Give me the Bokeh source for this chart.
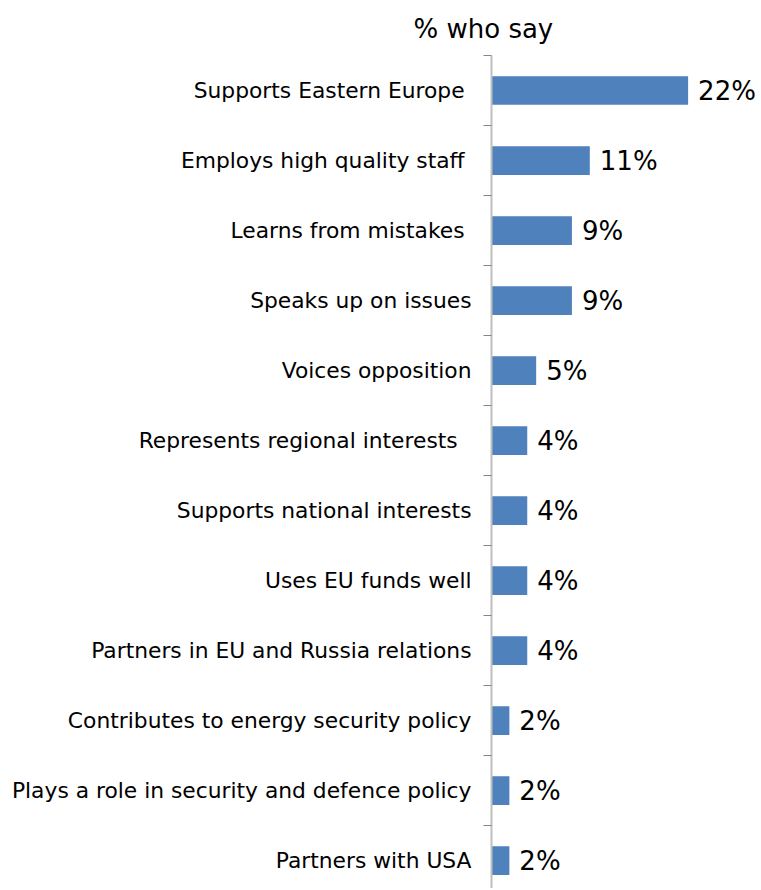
from bokeh.plotting import figure
from bokeh.models import Range1d, FixedTicker, ColumnDataSource, Title
from bokeh.core.properties import value
from bokeh.embed import file_html
from bokeh.resources import INLINE

categories = [
    "Supports Eastern Europe ",
    "Employs high quality staff ",
    "Learns from mistakes ",
    "Speaks up on issues",
    "Voices opposition",
    "Represents  regional interests ",
    "Supports national interests",
    "Uses EU funds well",
    "Partners in EU and Russia relations",
    "Contributes to energy security policy",
    "Plays a role in security and defence policy",
    "Partners with USA",
]
values = [22, 11, 9, 9, 5, 4, 4, 4, 4, 2, 2, 2]
value_labels = ["22%", "11%", "9%", "9%", "5%", "4%", "4%", "4%", "4%", "2%", "2%", "2%"]
title_text = "% who say"

n = len(categories)
centers = [n - 0.5 - i for i in range(n)]
boundaries = [float(i) for i in range(1, n + 1)]

FONT = "DejaVu Sans"

p = figure(width=760, height=888, output_backend="svg", toolbar_location=None,
           x_range=Range1d(0, 30.1), y_range=Range1d(0.103, n),
           x_axis_type=None, min_border_left=491, min_border_right=0,
           min_border_top=54, min_border_bottom=0)
p.outline_line_color = None
p.xgrid.visible = False
p.ygrid.visible = False
p.background_fill_color = "white"
p.border_fill_color = "white"

src = ColumnDataSource(dict(y=centers, v=values, lab=value_labels))
p.hbar(y="y", right="v", left=0, height=0.41, source=src,
       fill_color="#4F81BD", line_color=None)
p.text(x="v", y="y", text="lab", source=src, x_offset=10,
       text_baseline="middle", text_align="left",
       text_font=value(FONT), text_font_size="26px", text_color="black")

yaxis = p.yaxis[0]
yaxis.ticker = FixedTicker(ticks=centers, minor_ticks=boundaries)
yaxis.major_label_overrides = {c: lab for c, lab in zip(centers, categories)}
yaxis.major_tick_line_color = None
yaxis.major_tick_out = 0
yaxis.major_tick_in = 0
yaxis.minor_tick_out = 8
yaxis.minor_tick_in = 0
yaxis.minor_tick_line_color = "#868686"
yaxis.minor_tick_line_width = 1
yaxis.axis_line_color = "#BFBFBF"
yaxis.axis_line_width = 2
yaxis.major_label_standoff = 12
yaxis.major_label_text_font = FONT
yaxis.major_label_text_font_size = "21.8px"
yaxis.major_label_text_color = "black"

p.title = Title(text=title_text, align="left", offset=-78,
                text_font=FONT, text_font_size="26px",
                text_font_style="normal", text_color="black", standoff=23)

open("out.html", "w").write(file_html(p, INLINE))
